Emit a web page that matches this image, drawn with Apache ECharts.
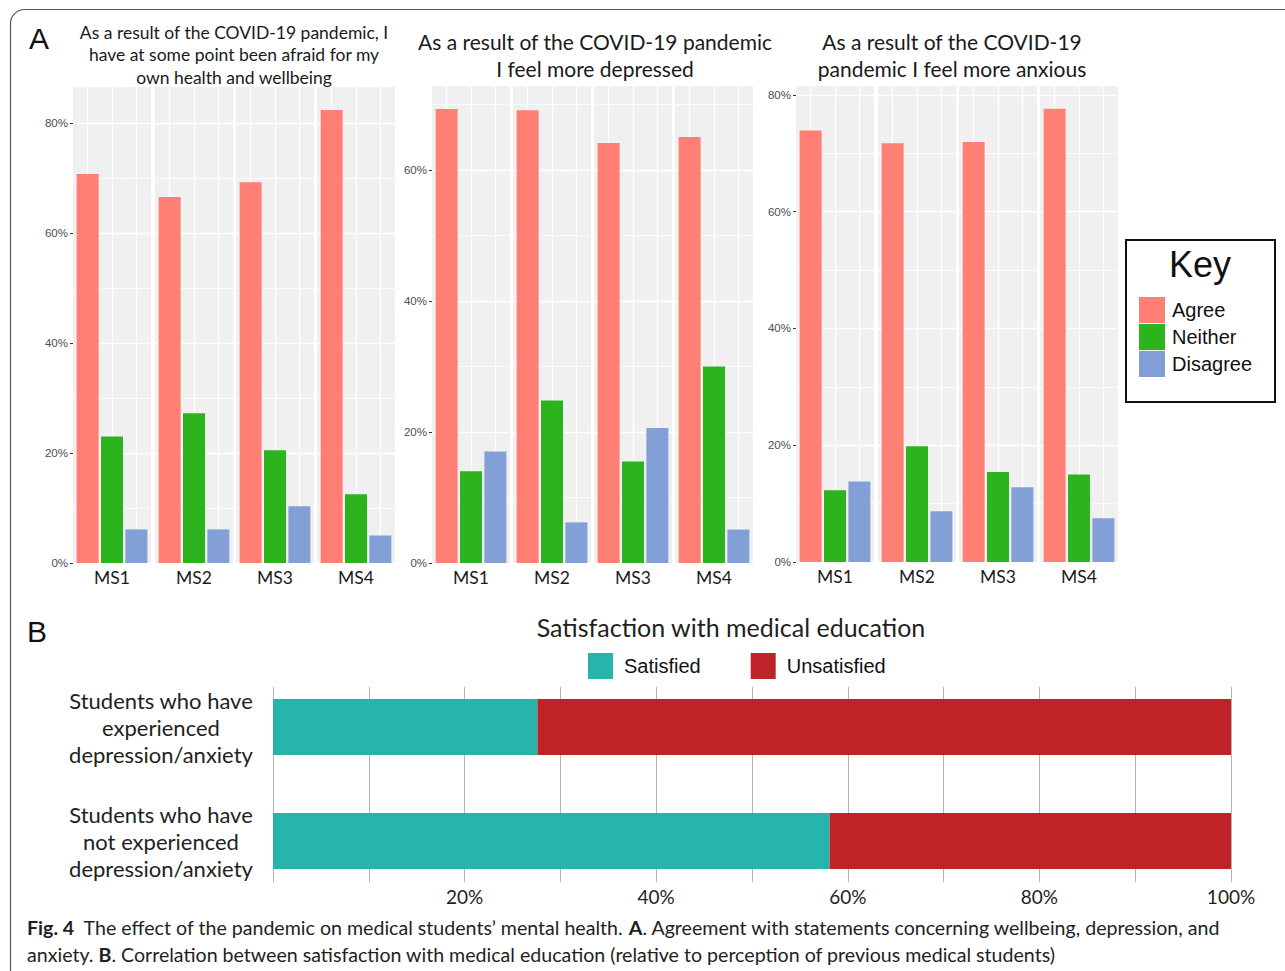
<!DOCTYPE html>
<html>
<head>
<meta charset="utf-8">
<title>The effect of the pandemic on medical students' mental health</title>
<script src="https://cdn.jsdelivr.net/npm/echarts@6.0.0/dist/echarts.min.js"></script>
<style>
  html, body { margin: 0; padding: 0; background: #fff; }
  #chart { width: 1285px; height: 971px; }
</style>
</head>
<body>
<div id="chart"></div>
<script>
// ---- Data -------------------------------------------------------------
const facets = ['MS1', 'MS2', 'MS3', 'MS4'];
const responses = ['Agree', 'Neither', 'Disagree'];

// "afraid for my own health and wellbeing" (% of students)
const afraidAgree    = [70.7, 66.5, 69.2, 82.3];
const afraidNeither  = [23.0, 27.2, 20.5, 12.5];
const afraidDisagree = [6.1, 6.1, 10.3, 5.0];

// "I feel more depressed"
const depressedAgree    = [69.3, 69.1, 64.1, 65.0];
const depressedNeither  = [14.0, 24.8, 15.5, 30.0];
const depressedDisagree = [17.0, 6.2, 20.6, 5.1];

// "I feel more anxious"
const anxiousAgree    = [73.9, 71.7, 71.9, 77.6];
const anxiousNeither  = [12.3, 19.8, 15.4, 15.0];
const anxiousDisagree = [13.8, 8.7, 12.8, 7.5];

const yTickValues = [0, 20, 40, 60, 80];
const yMinorValues = [10, 30, 50, 70];

// Satisfaction with medical education (%)
const studentGroups = [
  'Students who have\nexperienced\ndepression/anxiety',
  'Students who have\nnot experienced\ndepression/anxiety'
];
const satisfied   = [27.6, 58.1];
const unsatisfied = [72.4, 41.9];
const pctTickLabels = [20, 40, 60, 80, 100];

// ---- Styling / layout -------------------------------------------------
const SERIF_LIKE = 'Lato, "Open Sans", sans-serif';
const ARIAL = '"Liberation Sans", Arial, sans-serif';
const responseColors = { Agree: '#FF7F74', Neither: '#2BB41E', Disagree: '#82A0D6' };
const satColors = { Satisfied: '#27B4AC', Unsatisfied: '#BD2327' };

const panels = [
  { values: [afraidAgree, afraidNeither, afraidDisagree],
    lefts: [73, 155, 236, 317], top: 87, bottom: 408, yMax: 86.5 },
  { values: [depressedAgree, depressedNeither, depressedDisagree],
    lefts: [432, 513, 594, 675], top: 86, bottom: 408, yMax: 72.8 },
  { values: [anxiousAgree, anxiousNeither, anxiousDisagree],
    lefts: [796, 878, 959, 1040], top: 86, bottom: 409, yMax: 81.5 }
];
const FACET_W = 78;

const grid = [], xAxis = [], yAxis = [], series = [];
const responsePositions = responses.map((_, i) => i + 1);

panels.forEach((p, pi) => {
  facets.forEach((facet, fi) => {
    const g = grid.length;
    grid.push({
      left: p.lefts[fi], top: p.top, width: FACET_W, bottom: p.bottom,
      show: true, backgroundColor: '#F0F0F0', borderWidth: 0
    });
    xAxis.push({
      type: 'value', gridIndex: g, min: 0.4, max: 3.6,
      axisLine: { show: false },
      axisTick: { show: false, customValues: responsePositions },
      axisLabel: { show: false },
      splitLine: { show: true, lineStyle: { color: '#fff', width: 1.3 } },
      name: facet, nameLocation: 'middle', nameGap: 5,
      nameTextStyle: { fontFamily: SERIF_LIKE, fontSize: 17.5, color: '#1a1a1a', verticalAlign: 'top' }
    });
    const first = fi === 0;
    yAxis.push({
      type: 'value', gridIndex: g, min: 0, max: p.yMax,
      axisLine: { show: false },
      axisTick: { show: first, length: 3, lineStyle: { color: '#333' }, customValues: yTickValues },
      axisLabel: {
        show: first, customValues: yTickValues, formatter: '{value}%', margin: 5,
        color: '#4d4d4d', fontFamily: ARIAL, fontSize: 11.5
      },
      splitLine: { show: true, lineStyle: { color: '#fff', width: 1.3 } }
    });
    yAxis.push({
      type: 'value', gridIndex: g, min: 0, max: p.yMax,
      axisLine: { show: false },
      axisTick: { show: false, customValues: yMinorValues },
      axisLabel: { show: false },
      splitLine: { show: true, lineStyle: { color: '#fff', width: 0.7 } }
    });
    responses.forEach((r, ri) => {
      series.push({
        type: 'bar', name: r,
        xAxisIndex: g, yAxisIndex: 2 * g,
        data: [[ri + 1, p.values[ri][fi]]],
        barWidth: 22, barGap: '-100%',
        itemStyle: { color: responseColors[r] },
        silent: true
      });
    });
  });
});

// Panel B: stacked bars grid and a gridline grid
const gB = grid.length;
grid.push({ left: 273, right: 54, top: 670, bottom: 73 });
xAxis.push({ type: 'value', gridIndex: gB, min: 0, max: 100, show: false });
const yB = yAxis.length;
yAxis.push({
  type: 'category', gridIndex: gB, data: studentGroups, inverse: true,
  axisLine: { show: false }, axisTick: { show: false },
  axisLabel: {
    align: 'center', margin: 112, color: '#231f20',
    fontFamily: SERIF_LIKE, fontSize: 22, lineHeight: 27
  }
});
const gLines = grid.length;
grid.push({ left: 273, right: 54, top: 687, bottom: 89 });
xAxis.push({
  type: 'value', gridIndex: gLines, min: 0, max: 100, interval: 10,
  axisLine: { show: false }, axisTick: { show: false },
  axisLabel: {
    margin: 5, color: '#231f20', fontFamily: SERIF_LIKE, fontSize: 19,
    formatter: v => pctTickLabels.includes(v) ? v + '%' : ''
  },
  splitLine: { show: true, lineStyle: { color: '#b4b4b4', width: 1 } }
});
yAxis.push({ type: 'value', gridIndex: gLines, min: 0, max: 1, show: false });

['Satisfied', 'Unsatisfied'].forEach((name, i) => {
  series.push({
    type: 'bar', name, stack: 'satisfaction',
    xAxisIndex: gB, yAxisIndex: yB,
    data: i === 0 ? satisfied : unsatisfied,
    barWidth: 56,
    itemStyle: { color: satColors[name] },
    silent: true
  });
});

const option = {
  animation: false,
  backgroundColor: '#fff',
  grid, xAxis, yAxis, series,
  legend: [
    {
      data: responses, orient: 'vertical', left: 1139, top: 297, padding: 0,
      itemWidth: 26, itemHeight: 26, itemGap: 1, icon: 'rect',
      selectedMode: false,
      textStyle: { fontFamily: ARIAL, fontSize: 20, color: '#111', padding: [0, 0, 0, 2] }
    },
    {
      data: ['Satisfied', 'Unsatisfied'], orient: 'horizontal', left: 588, top: 653, padding: 0,
      itemWidth: 25, itemHeight: 26, itemGap: 50, icon: 'rect',
      selectedMode: false,
      textStyle: { fontFamily: ARIAL, fontSize: 20, color: '#111', padding: [0, 0, 0, 6] }
    }
  ],
  graphic: [
    // figure frame
    { type: 'rect', silent: true, z: -10,
      shape: { x: 10.5, y: 9.5, width: 1400, height: 1200, r: 14 },
      style: { fill: 'none', stroke: '#555', lineWidth: 1.2 } },
    // panel letters
    { type: 'text', x: 29, y: 23, style: { text: 'A', font: '30px ' + ARIAL, fill: '#111', verticalAlign: 'top' } },
    { type: 'text', x: 27, y: 616, style: { text: 'B', font: '30px ' + ARIAL, fill: '#111', verticalAlign: 'top' } },
    // facet panel titles
    { type: 'text', x: 234, y: 21, style: {
        text: 'As a result of the COVID-19 pandemic, I\nhave at some point been afraid for my\nown health and wellbeing',
        font: '17.5px ' + SERIF_LIKE, fill: '#1a1a1a', align: 'center', verticalAlign: 'top', lineHeight: 22.5 } },
    { type: 'text', x: 595, y: 28, style: {
        text: 'As a result of the COVID-19 pandemic\nI feel more depressed',
        font: '21px ' + SERIF_LIKE, fill: '#1a1a1a', align: 'center', verticalAlign: 'top', lineHeight: 27 } },
    { type: 'text', x: 952, y: 28, style: {
        text: 'As a result of the COVID-19\npandemic I feel more anxious',
        font: '21px ' + SERIF_LIKE, fill: '#1a1a1a', align: 'center', verticalAlign: 'top', lineHeight: 27 } },
    // key box
    { type: 'rect', silent: true,
      shape: { x: 1126, y: 240, width: 149, height: 162 },
      style: { fill: 'none', stroke: '#111', lineWidth: 2 } },
    { type: 'text', x: 1200, y: 246, style: { text: 'Key', font: '36px ' + ARIAL, fill: '#111', align: 'center', verticalAlign: 'top' } },
    // panel B title
    { type: 'text', x: 731, y: 614, style: {
        text: 'Satisfaction with medical education',
        font: '25px ' + SERIF_LIKE, fill: '#231f20', align: 'center', verticalAlign: 'top' } },
    // caption
    { type: 'text', x: 27, y: 914, style: {
        text: '{b|Fig. 4}  The effect of the pandemic on medical students\u2019 mental health. {b|A}. Agreement with statements concerning wellbeing, depression, and\nanxiety. {b|B}. Correlation between satisfaction with medical education (relative to perception of previous medical students)',
        fontFamily: SERIF_LIKE, fontSize: 19.6, fill: '#231f20', verticalAlign: 'top', lineHeight: 27,
        rich: { b: { fontWeight: 'bold', fontFamily: SERIF_LIKE, fontSize: 19.6, fill: '#231f20', lineHeight: 27 } } } }
  ]
};

const chart = echarts.init(document.getElementById('chart'), null, { renderer: 'svg' });
chart.setOption(option);
</script>
</body>
</html>
